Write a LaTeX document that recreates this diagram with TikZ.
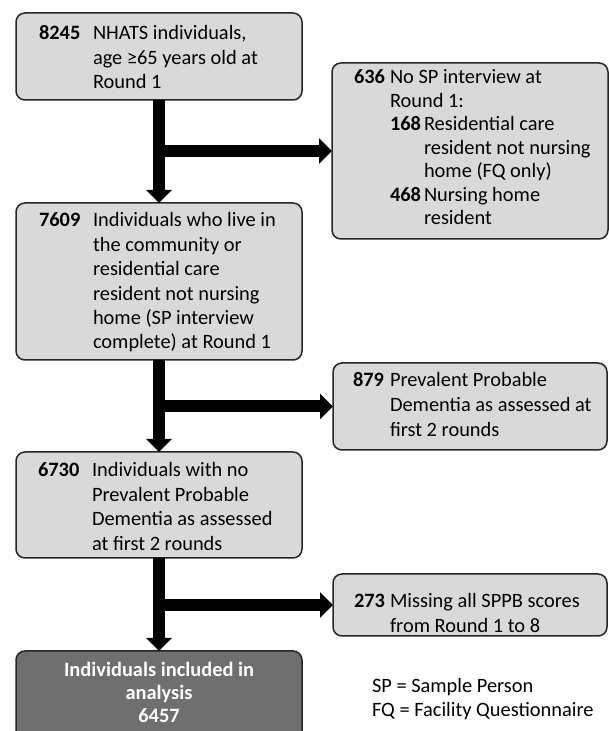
\documentclass[tikz,border=0pt]{standalone}
\usepackage{fontspec}
\setmainfont{Carlito}
\usetikzlibrary{arrows.meta}
\definecolor{boxfill}{HTML}{D9D9D9}
\definecolor{boxline}{HTML}{262626}
\definecolor{darkfill}{HTML}{6F6F6F}
\tikzset{
  box/.style={draw=boxline, line width=1.5pt, fill=boxfill, rounded corners=9pt, inner sep=0pt, outer sep=0pt},
  darkbox/.style={box, fill=darkfill},
  flow/.style={line width=12pt, draw=black, -{Triangle[width=25pt,length=13pt]}},
  txt/.style={anchor=base west, inner sep=0pt, outer sep=0pt, font=\fontsize{20.4}{24.4}\selectfont},
}
\begin{document}
\begin{tikzpicture}[x=1pt,y=1pt]
\clip (0,0) rectangle (609,731);
\fill[white] (0,0) rectangle (609,731);
% boxes
\node[box, minimum width=286pt, minimum height=87pt] (b1) at (159,674.5) {};
\node[box, minimum width=286pt, minimum height=157pt] (b2) at (159,449.5) {};
\node[box, minimum width=286pt, minimum height=106pt] (b3) at (159,226) {};
\node[darkbox, minimum width=286pt, minimum height=94pt] (b4) at (159,33) {};
\node[box, minimum width=276pt, minimum height=176pt] (r1) at (470,580) {};
\node[box, minimum width=274pt, minimum height=87pt] (r2) at (470,324.5) {};
\node[box, minimum width=274pt, minimum height=62pt] (r3) at (470,126) {};
% connectors
\draw[flow] (b1.south) -- (b2.north);
\draw[flow] (b1.south |- r1.west) -- (r1.west);
\draw[flow] (b2.south) -- (b3.north);
\draw[flow] (b2.south |- r2.west) -- (r2.west);
\draw[flow] (b3.south) -- (b4.north);
\draw[flow] (b3.south |- r3.west) -- (r3.west);
% texts
\node[txt] (t1) at (39,691) {\begin{tabular}[t]{@{}p{54pt}@{}l@{}}
\textbf{8245} & NHATS individuals,\\
& age ≥65 years old at\\
& Round 1
\end{tabular}};
\node[txt] (t2) at (39,504) {\begin{tabular}[t]{@{}p{54pt}@{}l@{}}
\textbf{7609} & Individuals who live in\\
& the community or\\
& residential care\\
& resident not nursing\\
& home (SP interview\\
& complete) at Round 1
\end{tabular}};
\node[txt] (t3) at (38,254) {\begin{tabular}[t]{@{}p{54pt}@{}l@{}}
\textbf{6730} & Individuals with no\\
& Prevalent Probable\\
& Dementia as assessed\\
& at first 2 rounds
\end{tabular}};
\node[txt, font=\fontsize{20.4}{23.5}\selectfont] (tr1) at (354,647) {\begin{tabular}[t]{@{}p{36pt}@{}p{34pt}@{}l@{}}
\textbf{636} & \multicolumn{2}{@{}l@{}}{No SP interview at}\\
& \multicolumn{2}{@{}l@{}}{Round 1:}\\
& \textbf{168} & Residential care\\
& & resident not nursing\\
& & home (FQ only)\\
& \textbf{468} & Nursing home\\
& & resident
\end{tabular}};
\node[txt, font=\fontsize{20.4}{25}\selectfont] (tr2) at (353,344) {\begin{tabular}[t]{@{}p{37pt}@{}l@{}}
\textbf{879} & Prevalent Probable\\
& Dementia as assessed at\\
& first 2 rounds
\end{tabular}};
\node[txt] (tr3) at (354,123) {\begin{tabular}[t]{@{}p{36pt}@{}l@{}}
\textbf{273} & Missing all SPPB scores\\
& from Round 1 to 8
\end{tabular}};
\node[anchor=base, inner sep=0pt, text=white, font=\fontsize{20.4}{23}\selectfont\bfseries] (t4) at (159,54) {\begin{tabular}[t]{@{}c@{}}
Individuals included in\\
analysis\\
6457
\end{tabular}};
\node[txt, font=\fontsize{20.4}{24}\selectfont] (leg) at (372,38) {\begin{tabular}[t]{@{}l@{}}
SP = Sample Person\\
FQ = Facility Questionnaire
\end{tabular}};
\end{tikzpicture}
\end{document}
